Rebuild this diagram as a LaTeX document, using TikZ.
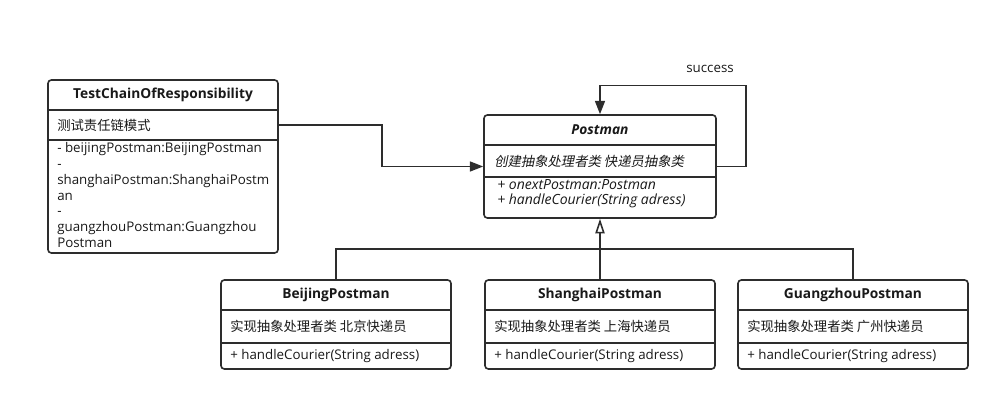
\documentclass[tikz,border=0pt]{standalone}
\usepackage{fontspec}
\setmainfont{Open Sans}
\newfontfamily\cjk{Noto Sans CJK SC}
\newfontfamily\cjkit{Noto Sans CJK SC}[FakeSlant=0.2]
\usetikzlibrary{arrows.meta}

\definecolor{linecolor}{RGB}{45,45,45}
\definecolor{textcolor}{RGB}{25,25,25}

\tikzset{
  classbox/.style={draw=linecolor, line width=1.2pt, rounded corners=2.5pt, inner sep=0pt},
  classname/.style={font=\fontsize{10.3}{12}\selectfont\bfseries, text=textcolor, inner sep=0pt},
  member/.style={anchor=west, inner sep=0pt, font=\fontsize{10}{12}\selectfont, text=textcolor},
  divider/.style={draw=linecolor, line width=1.2pt},
  flow/.style={draw=linecolor, line width=1.2pt, -{Triangle[length=10pt,width=7.5pt]}},
  generalize/.style={draw=linecolor, line width=1.2pt, -{Triangle[open,length=11pt,width=7pt]}},
}

\begin{document}
\begin{tikzpicture}[x=0.75pt, y=-0.75pt]
  \useasboundingbox (0,0) rectangle (1001,402);

  % Client class
  \node[classbox, minimum width=172.5pt, minimum height=129.75pt] (test) at (163,166.5) {};
  \draw[divider] (test.west |- 0,110) -- (test.east |- 0,110);
  \draw[divider] (test.west |- 0,140) -- (test.east |- 0,140);
  \node[classname] (testname) at (163,95) {TestChainOfResponsibility};
  \node[member] (testnote) at (57,125) {\cjk 测试责任链模式};
  \node[member, anchor=north west, align=left, font=\fontsize{10}{11.8}\selectfont] (testattrs) at (57,142.5)
    {- beijingPostman:BeijingPostman\\ -\\ shanghaiPostman:ShanghaiPostm\\ an\\ -\\ guangzhouPostman:Guangzhou\\ Postman};

  % Abstract handler
  \node[classbox, minimum width=174pt, minimum height=77.25pt] (pm) at (600,166.5) {};
  \draw[divider] (pm.west |- 0,145) -- (pm.east |- 0,145);
  \draw[divider] (pm.west |- 0,177) -- (pm.east |- 0,177);
  \node[classname, font=\fontsize{10.3}{12}\selectfont\bfseries\itshape] (pmname) at (600,130) {Postman};
  \node[member] (pmnote) at (494,161) {\cjkit 创建抽象处理者类 快递员抽象类};
  \node[member, anchor=north west, align=left, font=\fontsize{10.5}{11.25}\selectfont\itshape] (pmattrs) at (497,179)
    {+ onextPostman:Postman\\ + handleCourier(String adress)};

  % Concrete handlers
  \foreach \nm/\cx/\title/\city in {bj/336/BeijingPostman/北京, sh/600/ShanghaiPostman/上海, gz/853/GuangzhouPostman/广州} {
    \node[classbox, minimum width=172.5pt, minimum height=66.75pt] (\nm) at (\cx,324.5) {};
    \draw[divider] (\nm.west |- 0,310) -- (\nm.east |- 0,310);
    \draw[divider] (\nm.west |- 0,343) -- (\nm.east |- 0,343);
    \node[classname] (\nm-name) at (\cx,295) {\title};
    \node[member] (\nm-note) at ({\cx-106},326) {\cjk 实现抽象处理者类 \city 快递员};
    \node[member] (\nm-op) at ({\cx-106},356) {+ handleCourier(String adress)};
  }

  % Connectors
  \draw[flow] (testnote -| test.east) -- ++(103,0) |- (pm.west);
  \draw[flow] (pm.east) -- ++(29,0) -- ++(0,-81) -| (pm.north);
  \node[member, anchor=center] (success) at (710,69) {success};
  \draw[divider] (bj.north) -- ++(0,-30) -| (gz.north);
  \draw[generalize] (sh.north) -- (pm.south);
\end{tikzpicture}
\end{document}
